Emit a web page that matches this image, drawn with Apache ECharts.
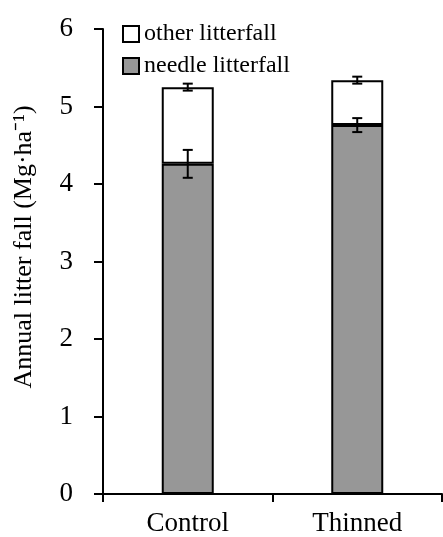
<!DOCTYPE html>
<html>
<head>
<meta charset="utf-8">
<script src="https://cdn.jsdelivr.net/npm/echarts@6/dist/echarts.min.js"></script>
<style>html,body{margin:0;padding:0;background:#fff}#c{width:443px;height:537px}</style>
</head>
<body>
<div id="c"></div>
<script>
const categories = ['Control', 'Thinned'];
const needle = [4.26, 4.76];
const other = [0.99, 0.58];
const needleErr = [0.18, 0.09];
const totalErr = [0.045, 0.045];
const yTicks = [0, 1, 2, 3, 4, 5, 6];
const seriesNames = ['other litterfall', 'needle litterfall'];
const yTitle = 'Annual litter fall (Mg·ha⁻¹)';

const FONT = 'Liberation Serif';
const chart = echarts.init(document.getElementById('c'));

const errData = [];
categories.forEach((c, i) => {
  errData.push([i, needle[i], needleErr[i]]);
  errData.push([i, needle[i] + other[i], totalErr[i]]);
});

function errRender(params, api) {
  const x = api.value(0), y = api.value(1), e = api.value(2);
  const hi = api.coord([x, y + e]);
  const lo = api.coord([x, y - e]);
  const w = 5;
  const st = { stroke: '#000', lineWidth: 2 };
  return {
    type: 'group',
    children: [
      { type: 'line', shape: { x1: hi[0], y1: hi[1], x2: lo[0], y2: lo[1] }, style: st },
      { type: 'line', shape: { x1: hi[0] - w, y1: hi[1], x2: hi[0] + w, y2: hi[1] }, style: st },
      { type: 'line', shape: { x1: lo[0] - w, y1: lo[1], x2: lo[0] + w, y2: lo[1] }, style: st }
    ]
  };
}

chart.setOption({
  animation: false,
  backgroundColor: '#fff',
  textStyle: { fontFamily: FONT, color: '#000' },
  grid: { left: 103, right: 1, top: 29, bottom: 42, containLabel: false },
  legend: {
    data: seriesNames,
    orient: 'vertical',
    left: 117,
    top: 17,
    padding: 5,
    itemWidth: 16,
    itemHeight: 16,
    itemGap: 8,
    icon: 'rect',
    textStyle: { fontFamily: FONT, fontSize: 24, lineHeight: 22, color: '#000' }
  },
  xAxis: {
    type: 'category',
    data: categories,
    axisLine: { lineStyle: { color: '#000', width: 2 } },
    axisTick: { show: true, length: 8, lineStyle: { color: '#000', width: 2 } },
    axisLabel: { fontFamily: FONT, fontSize: 27, color: '#000', margin: 16 }
  },
  yAxis: {
    type: 'value',
    min: yTicks[0],
    max: yTicks[yTicks.length - 1],
    interval: 1,
    axisLine: { show: true, lineStyle: { color: '#000', width: 2 } },
    axisTick: { show: true, length: 9, lineStyle: { color: '#000', width: 2 } },
    splitLine: { show: false },
    axisLabel: { fontFamily: FONT, fontSize: 27, color: '#000', margin: 30 }
  },
  graphic: [{
    type: 'text',
    x: 24,
    y: 247,
    rotation: Math.PI / 2,
    style: {
      text: yTitle,
      fontFamily: FONT,
      fontSize: 26,
      fill: '#000',
      textAlign: 'center',
      textVerticalAlign: 'middle'
    }
  }],
  series: [
    {
      name: seriesNames[1],
      type: 'bar',
      stack: 'total',
      barWidth: 52,
      data: needle,
      itemStyle: { color: '#979797', borderColor: '#000', borderWidth: 2 }
    },
    {
      name: seriesNames[0],
      type: 'bar',
      stack: 'total',
      barWidth: 52,
      data: other,
      itemStyle: { color: '#ffffff', borderColor: '#000', borderWidth: 2 }
    },
    {
      type: 'custom',
      renderItem: errRender,
      data: errData,
      z: 10,
      silent: true
    }
  ]
});
</script>
</body>
</html>
